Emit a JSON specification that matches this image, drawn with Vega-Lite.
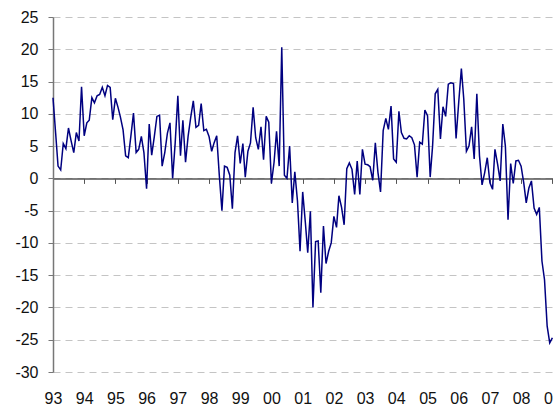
{
  "$schema": "https://vega.github.io/schema/vega-lite/v6.json",
  "width": 501,
  "height": 355,
  "autosize": "none",
  "padding": {"left": 53, "top": 17, "right": 0, "bottom": 33},
  "background": "white",
  "config": {"view": {"stroke": null}, "font": "Liberation Sans"},
  "data": {
    "format": {"parse": {"d": "utc:'%Y-%m'"}},
    "values": [
      {"d":"1993-01","v":12.5},{"d":"1993-02","v":7.0},{"d":"1993-03","v":1.9},{"d":"1993-04","v":1.3},{"d":"1993-05","v":5.4},{"d":"1993-06","v":4.6},{"d":"1993-07","v":7.8},{"d":"1993-08","v":5.8},{"d":"1993-09","v":4.0},{"d":"1993-10","v":7.1},{"d":"1993-11","v":5.8},{"d":"1993-12","v":14.2},
      {"d":"1994-01","v":6.6},{"d":"1994-02","v":8.6},{"d":"1994-03","v":9.0},{"d":"1994-04","v":12.5},{"d":"1994-05","v":11.7},{"d":"1994-06","v":12.8},{"d":"1994-07","v":13.0},{"d":"1994-08","v":14.1},{"d":"1994-09","v":12.8},{"d":"1994-10","v":14.4},{"d":"1994-11","v":14.1},{"d":"1994-12","v":9.1},
      {"d":"1995-01","v":12.4},{"d":"1995-02","v":11.0},{"d":"1995-03","v":9.5},{"d":"1995-04","v":7.5},{"d":"1995-05","v":3.5},{"d":"1995-06","v":3.2},{"d":"1995-07","v":6.5},{"d":"1995-08","v":10.1},{"d":"1995-09","v":4.0},{"d":"1995-10","v":4.5},{"d":"1995-11","v":6.5},{"d":"1995-12","v":4.0},
      {"d":"1996-01","v":-1.6},{"d":"1996-02","v":8.4},{"d":"1996-03","v":3.6},{"d":"1996-04","v":6.5},{"d":"1996-05","v":9.6},{"d":"1996-06","v":9.8},{"d":"1996-07","v":1.9},{"d":"1996-08","v":4.0},{"d":"1996-09","v":7.0},{"d":"1996-10","v":8.6},{"d":"1996-11","v":0.0},{"d":"1996-12","v":5.5},
      {"d":"1997-01","v":12.8},{"d":"1997-02","v":3.5},{"d":"1997-03","v":9.0},{"d":"1997-04","v":2.5},{"d":"1997-05","v":6.5},{"d":"1997-06","v":9.5},{"d":"1997-07","v":12.0},{"d":"1997-08","v":7.9},{"d":"1997-09","v":8.2},{"d":"1997-10","v":11.6},{"d":"1997-11","v":7.4},{"d":"1997-12","v":7.6},
      {"d":"1998-01","v":6.5},{"d":"1998-02","v":4.2},{"d":"1998-03","v":5.5},{"d":"1998-04","v":6.6},{"d":"1998-05","v":0.5},{"d":"1998-06","v":-5.0},{"d":"1998-07","v":1.9},{"d":"1998-08","v":1.7},{"d":"1998-09","v":0.5},{"d":"1998-10","v":-4.7},{"d":"1998-11","v":4.0},{"d":"1998-12","v":6.6},
      {"d":"1999-01","v":2.3},{"d":"1999-02","v":5.4},{"d":"1999-03","v":0.2},{"d":"1999-04","v":4.2},{"d":"1999-05","v":5.5},{"d":"1999-06","v":11.0},{"d":"1999-07","v":6.3},{"d":"1999-08","v":4.5},{"d":"1999-09","v":8.0},{"d":"1999-10","v":2.9},{"d":"1999-11","v":9.6},{"d":"1999-12","v":8.7},
      {"d":"2000-01","v":-0.8},{"d":"2000-02","v":2.5},{"d":"2000-03","v":7.3},{"d":"2000-04","v":1.9},{"d":"2000-05","v":20.3},{"d":"2000-06","v":0.5},{"d":"2000-07","v":0.0},{"d":"2000-08","v":5.0},{"d":"2000-09","v":-3.8},{"d":"2000-10","v":1.0},{"d":"2000-11","v":-3.5},{"d":"2000-12","v":-11.3},
      {"d":"2001-01","v":-2.1},{"d":"2001-02","v":-6.8},{"d":"2001-03","v":-11.5},{"d":"2001-04","v":-5.1},{"d":"2001-05","v":-20.0},{"d":"2001-06","v":-9.8},{"d":"2001-07","v":-9.7},{"d":"2001-08","v":-17.7},{"d":"2001-09","v":-7.4},{"d":"2001-10","v":-13.2},{"d":"2001-11","v":-11.3},{"d":"2001-12","v":-10.0},
      {"d":"2002-01","v":-5.9},{"d":"2002-02","v":-7.6},{"d":"2002-03","v":-2.7},{"d":"2002-04","v":-4.5},{"d":"2002-05","v":-7.2},{"d":"2002-06","v":1.5},{"d":"2002-07","v":2.4},{"d":"2002-08","v":1.4},{"d":"2002-09","v":-2.5},{"d":"2002-10","v":2.7},{"d":"2002-11","v":-2.5},{"d":"2002-12","v":4.5},
      {"d":"2003-01","v":2.2},{"d":"2003-02","v":2.1},{"d":"2003-03","v":1.8},{"d":"2003-04","v":-0.3},{"d":"2003-05","v":5.5},{"d":"2003-06","v":0.9},{"d":"2003-07","v":-2.1},{"d":"2003-08","v":7.4},{"d":"2003-09","v":9.3},{"d":"2003-10","v":7.6},{"d":"2003-11","v":11.2},{"d":"2003-12","v":3.0},
      {"d":"2004-01","v":2.5},{"d":"2004-02","v":10.4},{"d":"2004-03","v":7.1},{"d":"2004-04","v":6.2},{"d":"2004-05","v":6.1},{"d":"2004-06","v":6.6},{"d":"2004-07","v":6.3},{"d":"2004-08","v":5.2},{"d":"2004-09","v":0.2},{"d":"2004-10","v":5.6},{"d":"2004-11","v":5.3},{"d":"2004-12","v":10.6},
      {"d":"2005-01","v":9.7},{"d":"2005-02","v":0.2},{"d":"2005-03","v":5.0},{"d":"2005-04","v":13.1},{"d":"2005-05","v":13.8},{"d":"2005-06","v":6.1},{"d":"2005-07","v":11.1},{"d":"2005-08","v":9.6},{"d":"2005-09","v":14.6},{"d":"2005-10","v":14.8},{"d":"2005-11","v":14.7},{"d":"2005-12","v":6.2},
      {"d":"2006-01","v":11.8},{"d":"2006-02","v":17.0},{"d":"2006-03","v":12.3},{"d":"2006-04","v":4.2},{"d":"2006-05","v":5.0},{"d":"2006-06","v":8.0},{"d":"2006-07","v":3.0},{"d":"2006-08","v":13.1},{"d":"2006-09","v":3.5},{"d":"2006-10","v":-1.0},{"d":"2006-11","v":0.9},{"d":"2006-12","v":3.2},
      {"d":"2007-01","v":-0.7},{"d":"2007-02","v":-1.7},{"d":"2007-03","v":4.5},{"d":"2007-04","v":2.2},{"d":"2007-05","v":-0.4},{"d":"2007-06","v":8.4},{"d":"2007-07","v":5.0},{"d":"2007-08","v":-6.4},{"d":"2007-09","v":2.3},{"d":"2007-10","v":-0.8},{"d":"2007-11","v":2.7},{"d":"2007-12","v":2.8},
      {"d":"2008-01","v":1.9},{"d":"2008-02","v":-0.7},{"d":"2008-03","v":-3.8},{"d":"2008-04","v":-1.5},{"d":"2008-05","v":-0.4},{"d":"2008-06","v":-4.6},{"d":"2008-07","v":-5.6},{"d":"2008-08","v":-4.5},{"d":"2008-09","v":-12.8},{"d":"2008-10","v":-15.7},{"d":"2008-11","v":-22.9},{"d":"2008-12","v":-25.5},
      {"d":"2009-01","v":-24.7}
    ]
  },
  "encoding": {
    "y": {
      "field": "v", "type": "quantitative",
      "scale": {"domain": [-30, 25], "nice": false, "zero": false},
      "axis": {
        "title": null, "values": [-30, -25, -20, -15, -10, -5, 0, 5, 10, 15, 20, 25],
        "labelExpr": "'' + datum.value",
        "grid": true, "gridDash": [7, 5], "gridColor": "#c4c4c4", "gridWidth": 1,
        "domainColor": "#777777", "domainWidth": 1.5, "tickColor": "#777777", "tickSize": 5, "tickWidth": 1,
        "labelFontSize": 16, "labelColor": "#111111", "labelPadding": 10
      }
    }
  },
  "layer": [
    {
      "mark": {"type": "line", "color": "#000080", "strokeWidth": 1.5},
      "encoding": {
        "x": {
          "field": "d", "type": "temporal",
          "scale": {"type": "utc", "domain": [{"year": 1993, "month": 1, "date": 1, "utc": true}, {"year": 2009, "month": 1, "date": 20, "utc": true}]},
          "axis": {
            "orient": "bottom", "title": null, "domain": false, "ticks": false, "tickSize": 0, "grid": false,
            "labelExpr": "utcFormat(datum.value, '%y')", "tickCount": {"interval": "year", "step": 1},
            "labelFontSize": 16, "labelColor": "#111111", "labelPadding": 18, "labelFlush": false, "labelOverlap": false
          }
        }
      }
    },
    {
      "mark": {"type": "line", "opacity": 0},
      "encoding": {
        "x": {
          "field": "d", "type": "temporal",
          "scale": {"type": "utc", "domain": [{"year": 1993, "month": 1, "date": 1, "utc": true}, {"year": 2009, "month": 1, "date": 20, "utc": true}]},
          "axis": {
            "orient": "bottom", "offset": -193.6, "title": null, "labels": false, "grid": false,
            "domain": true, "domainColor": "#555555", "domainWidth": 1.5,
            "ticks": true, "tickColor": "#555555", "tickSize": 5, "tickWidth": 1,
            "tickCount": {"interval": "year", "step": 1}
          }
        }
      }
    }
  ],
  "resolve": {"axis": {"x": "independent"}}
}
